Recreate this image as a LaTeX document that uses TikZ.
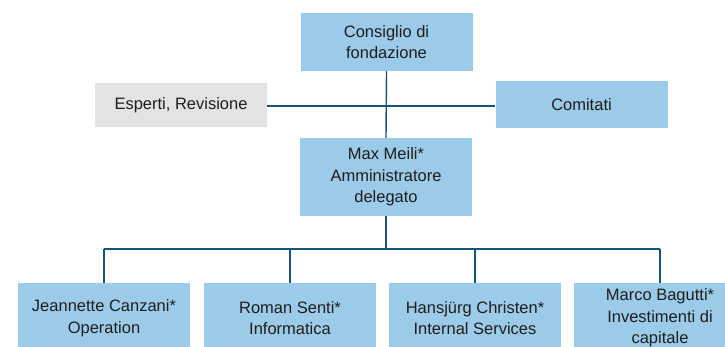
\documentclass[tikz,border=0pt]{standalone}
\usepackage{fontspec}
\setmainfont{Liberation Sans}
\definecolor{boxblue}{RGB}{155,203,232}
\definecolor{boxgrey}{RGB}{227,227,227}
\definecolor{linkblue}{RGB}{22,84,124}
\definecolor{txt}{RGB}{30,30,30}

\begin{document}
\begin{tikzpicture}[x=1pt,y=-1pt,
	box/.style={fill=boxblue,minimum width=172pt,inner sep=0pt,align=center,text=txt,font=\fontsize{16.5}{21.5}\selectfont},
	greybox/.style={box,fill=boxgrey},
	mainline/.style={draw=linkblue,line width=2.6pt},
	thinline/.style={draw=linkblue,line width=1.4pt}]
	\clip (0,0) rectangle (725,347);
	\node[box,minimum height=58pt] (board) at (386.5,42) {Consiglio di\\fondazione};
	\node[greybox,minimum height=44pt] (experts) at (181,105.5) {Esperti, Revisione};
	\node[box,minimum height=47pt] (committees) at (581.5,104.5) {Comitati};
	\node[box,minimum height=78pt] (ceo) at (386,177) {Max Meili*\\Amministratore\\delegato};
	\node[box,minimum height=70pt] (ops) at (104,318) {Jeannette Canzani*\\Operation};
	\node[box,minimum height=70pt] (it) at (290,318) {Roman Senti*\\Informatica};
	\node[box,minimum height=70pt] (serv) at (475,318) {Hansjürg Christen*\\Internal Services};
	\node[box,minimum height=70pt] (inv) at (660,318) {Marco Bagutti*\\Investimenti di\\capitale};

	\coordinate (hub) at (386,106);
	\coordinate (split) at (386,249);
	\draw[thinline] (board.south) -- (ceo.north);
	\draw[mainline] (experts.east |- hub) -- (committees.west |- hub);
	\draw[mainline] (ceo.south) -- (split);
	\draw[mainline] (ops.north |- split) -- (inv.north |- split);
	\foreach \n in {ops,it,serv,inv}
		\draw[thinline] (\n.north |- split) -- (\n.north);
\end{tikzpicture}
\end{document}
